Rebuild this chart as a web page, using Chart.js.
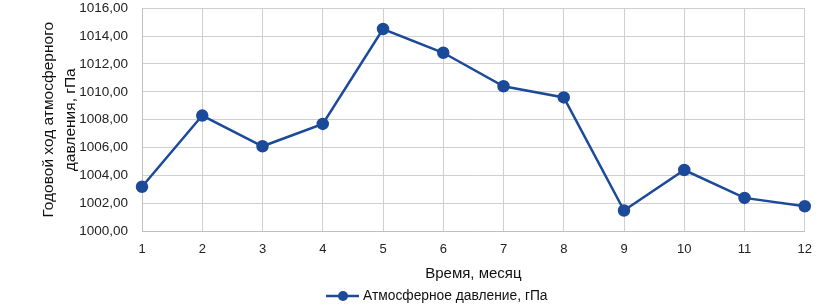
<!DOCTYPE html>
<html><head><meta charset="utf-8">
<script src="https://cdn.jsdelivr.net/npm/chart.js@4.4.1/dist/chart.umd.min.js"></script>
<style>html,body{margin:0;padding:0;background:#fff;}#wrap{width:822px;height:307px;position:relative;}</style>
</head><body><div id="wrap"><canvas id="c"></canvas></div>
<script>
const months = ['1','2','3','4','5','6','7','8','9','10','11','12'];
const pressure = [1003.2, 1008.3, 1006.1, 1007.7, 1014.5, 1012.8, 1010.4, 1009.6, 1001.5, 1004.4, 1002.4, 1001.8];
const seriesLabel = 'Атмосферное давление, гПа';
const yTitle = ['Годовой ход атмосферного', 'давления, гПа'];
const xTitle = 'Время, месяц';
const color = '#1c4a9a';
const FONT = "'Liberation Sans', Arial, sans-serif";

const legendPlugin = {
  id: 'customLegend',
  afterDraw(chart) {
    const ctx = chart.ctx;
    const ds = chart.data.datasets[0];
    const y = 296, x0 = 326;
    ctx.save();
    ctx.strokeStyle = ds.borderColor; ctx.lineWidth = 2.5;
    ctx.beginPath(); ctx.moveTo(x0, y); ctx.lineTo(x0 + 33, y); ctx.stroke();
    ctx.fillStyle = ds.borderColor;
    ctx.beginPath(); ctx.arc(x0 + 17, y, 5, 0, Math.PI * 2); ctx.fill();
    ctx.fillStyle = '#111';
    ctx.font = '13.8px ' + FONT;
    ctx.textBaseline = 'middle'; ctx.textAlign = 'left';
    ctx.fillText(ds.label, x0 + 37, y);
    ctx.restore();
  }
};

new Chart(document.getElementById('c'), {
  type: 'line',
  data: { labels: months, datasets: [{
    label: seriesLabel, data: pressure, borderColor: color, backgroundColor: color,
    borderWidth: 2.5, pointRadius: 5, pointHoverRadius: 5, tension: 0
  }]},
  options: {
    responsive: true, maintainAspectRatio: false, animation: false,
    layout: { padding: { left: 38, right: 12, top: 0, bottom: 24 } },
    plugins: { legend: { display: false }, tooltip: { enabled: false } },
    scales: {
      x: {
        offset: false,
        grid: { color: '#cfcfcf', lineWidth: 1, drawTicks: false },
        border: { color: '#bfbfbf' },
        ticks: { color: '#222', font: { family: FONT, size: 13 }, padding: 10, maxRotation: 0 },
        title: { display: true, text: xTitle, color: '#111', font: { family: FONT, size: 15 }, padding: { top: -2, bottom: 0 } }
      },
      y: {
        min: 1000, max: 1016,
        grid: { color: '#cfcfcf', lineWidth: 1, drawTicks: true, tickLength: 14, tickColor: 'rgba(0,0,0,0)' },
        border: { color: '#bfbfbf' },
        ticks: { stepSize: 2, color: '#222', font: { family: FONT, size: 13.5 }, padding: 0,
          callback: v => v.toFixed(2).replace('.', ',') },
        title: { display: true, text: yTitle, color: '#111', font: { family: FONT, size: 15.5, lineHeight: 1.4 }, padding: { top: 0, bottom: 6 } },
        afterFit(scale) { scale.width = 104; }
      }
    }
  },
  plugins: [legendPlugin]
});
</script></body></html>
